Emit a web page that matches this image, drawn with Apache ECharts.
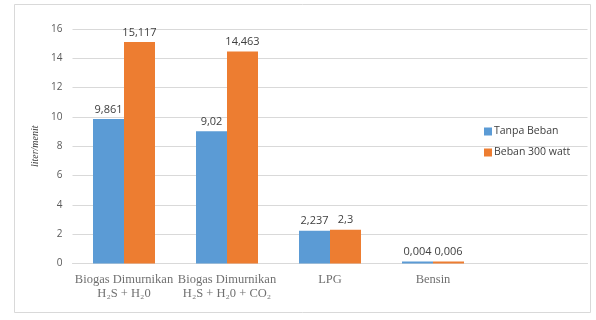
<!DOCTYPE html>
<html>
<head>
<meta charset="utf-8">
<script src="https://cdn.jsdelivr.net/npm/echarts@6/dist/echarts.min.js"></script>
<style>
  html, body { margin: 0; padding: 0; background: #fff; }
  #chart { width: 596px; height: 320px; }
</style>
</head>
<body>
<div id="chart"></div>
<script>
// Fuel consumption per fuel type, with and without a 300 W load
const categories = [
  'Biogas Dimurnikan\nH₂S + H₂0',
  'Biogas Dimurnikan\nH₂S + H₂0 + CO₂',
  'LPG',
  'Bensin',
  ''
];
const tanpaBeban = [9.861, 9.02, 2.237, 0.004, null];
const beban300 = [15.117, 14.463, 2.3, 0.006, null];
const seriesNames = ['Tanpa Beban', 'Beban 300 watt'];
const yTicks = [0, 2, 4, 6, 8, 10, 12, 14, 16];
const yTitle = 'liter/menit';

const fmt = p => String(p.value).replace('.', ',');
const labelStyle = {
  show: true, position: 'top', distance: 4, formatter: fmt,
  color: '#404040', fontFamily: 'Open Sans', fontSize: 11
};

const chart = echarts.init(document.getElementById('chart'));
chart.setOption({
  animation: false,
  backgroundColor: '#fff',
  graphic: [{
    type: 'rect', silent: true,
    shape: { x: 14.5, y: 4.5, width: 576, height: 308 },
    style: { fill: 'none', stroke: '#d9d9d9', lineWidth: 1 }
  }],
  grid: { left: 72.5, right: 8.5, top: 29, bottom: 56.5 },
  legend: {
    orient: 'vertical', left: 479, top: 121, itemGap: 10,
    itemWidth: 8, itemHeight: 8, icon: 'rect',
    textStyle: { color: '#404040', fontFamily: 'Open Sans', fontSize: 10.5, padding: [0, 0, 0, -3] },
    data: seriesNames
  },
  xAxis: {
    type: 'category', data: categories,
    axisLine: { lineStyle: { color: '#d9d9d9' } },
    axisTick: { show: false },
    axisLabel: {
      color: '#707070', fontFamily: 'Liberation Serif', fontSize: 12.5,
      lineHeight: 14, margin: 9, interval: 0
    }
  },
  yAxis: {
    type: 'value', min: yTicks[0], max: yTicks[yTicks.length - 1], interval: 2,
    name: yTitle, nameLocation: 'middle', nameGap: 27, nameRotate: 90,
    nameTextStyle: { fontFamily: 'Liberation Serif', fontStyle: 'italic', fontSize: 10, color: '#404040' },
    axisLine: { show: false }, axisTick: { show: false },
    axisLabel: { color: '#595959', fontFamily: 'Open Sans', fontSize: 10, margin: 10 },
    splitLine: { lineStyle: { color: '#d9d9d9' } }
  },
  series: [
    {
      name: seriesNames[0], type: 'bar', data: tanpaBeban,
      barWidth: 31, barGap: '0%', barMinHeight: 2,
      itemStyle: { color: '#5b9bd5' }, label: labelStyle
    },
    {
      name: seriesNames[1], type: 'bar', data: beban300,
      barWidth: 31, barGap: '0%', barMinHeight: 2,
      itemStyle: { color: '#ed7d31' }, label: labelStyle
    }
  ]
});
</script>
</body>
</html>
